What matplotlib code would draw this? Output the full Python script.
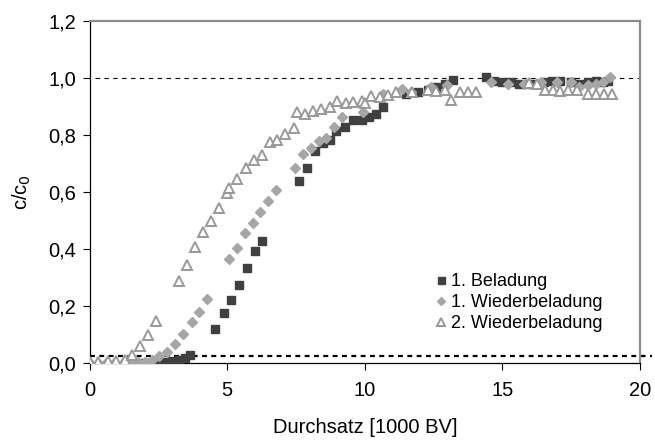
import numpy as np
import matplotlib
matplotlib.use("Agg")
import matplotlib.pyplot as plt
from matplotlib.ticker import FuncFormatter

plt.rcParams['font.family'] = ['Liberation Sans', 'DejaVu Sans']

# 1. Beladung
x_bel = [2.0, 2.25, 2.5, 2.75, 3.0, 3.25, 3.45, 3.64,
         4.57, 4.87, 5.15, 5.43, 5.72, 5.99, 6.28,
         7.61, 7.89, 8.18, 8.48, 8.75, 8.97, 9.27, 9.58, 9.88, 10.16, 10.42, 10.67,
         11.5, 11.93, 12.3, 12.6, 12.9, 13.19,
         14.42, 14.7, 15.0, 15.3, 15.6, 15.9, 16.2, 16.5, 16.8, 17.1,
         17.5, 17.8, 18.1, 18.4, 18.65, 18.85]
y_bel = [0.0, 0.0, 0.003, 0.005, 0.008, 0.012, 0.018, 0.028,
         0.12, 0.174, 0.22, 0.274, 0.332, 0.393, 0.428,
         0.64, 0.685, 0.744, 0.773, 0.784, 0.815, 0.83, 0.853, 0.853, 0.862, 0.874, 0.90,
         0.946, 0.95, 0.96, 0.97, 0.98, 0.995,
         1.005, 0.99, 0.985, 0.985, 0.98, 0.98, 0.98, 0.985, 0.99, 0.99,
         0.985, 0.98, 0.985, 0.99, 0.985, 0.99]

# 1. Wiederbeladung
x_wb1 = [0.0, 0.3, 0.6, 0.9, 1.2, 1.5, 1.75, 2.0, 2.25,
         2.52, 2.81, 3.11, 3.4, 3.7, 3.97, 4.27,
         5.07, 5.36, 5.65, 5.93, 6.2, 6.49, 6.77,
         7.45, 7.75, 8.04, 8.33, 8.6, 8.88, 9.17, 9.94, 10.67, 11.35, 11.67,
         12.4, 13.0, 14.6, 15.2, 15.8, 16.4, 17.0,
         17.5, 17.8, 18.1, 18.4, 18.65, 18.9]
y_wb1 = [0.0, 0.0, 0.0, 0.0, 0.0, 0.002, 0.003, 0.005, 0.01,
         0.025, 0.04, 0.067, 0.10, 0.143, 0.18, 0.224,
         0.364, 0.405, 0.455, 0.49, 0.53, 0.57, 0.607,
         0.685, 0.733, 0.755, 0.78, 0.79, 0.83, 0.862, 0.88, 0.946, 0.963, 0.95,
         0.97, 0.975, 0.985, 0.98, 0.98, 0.985, 0.985,
         0.988, 0.97, 0.975, 0.98, 0.988, 1.005]

# 2. Wiederbeladung
x_wb2 = [0.0, 0.3, 0.66, 0.97, 1.27, 1.54, 1.84, 2.13, 2.42,
         3.24, 3.53, 3.82, 4.1, 4.4, 4.69, 5.0, 5.07, 5.36, 5.67, 5.96, 6.25,
         6.55, 6.82, 7.11, 7.41, 7.55, 7.84, 8.13, 8.42, 8.72, 9.0, 9.3, 9.58,
         9.88, 10.0, 10.24, 10.55, 10.85, 11.13, 11.7, 12.3, 12.6, 12.9,
         13.15, 13.45, 13.75, 14.04,
         15.96, 16.26, 16.55, 16.83, 17.11, 17.39, 17.7, 18.12, 18.42, 18.7, 18.97]
y_wb2 = [0.005, 0.005, 0.006, 0.008, 0.01, 0.028, 0.06, 0.098, 0.148,
         0.289, 0.344, 0.408, 0.458, 0.50, 0.543, 0.598, 0.613, 0.646, 0.683, 0.712, 0.73,
         0.777, 0.783, 0.804, 0.826, 0.882, 0.874, 0.884, 0.893, 0.897, 0.92, 0.911, 0.917,
         0.92, 0.914, 0.937, 0.932, 0.941, 0.952, 0.95, 0.96, 0.955, 0.958,
         0.923, 0.952, 0.953, 0.953,
         0.983, 0.98, 0.96, 0.96, 0.955, 0.96, 0.96, 0.946, 0.946, 0.946, 0.943]

fig = plt.figure(figsize=(6.55, 4.41), dpi=100)
ax = fig.add_axes([0.137, 0.177, 0.840, 0.775])

ax.plot(x_bel, y_bel, ls='none', marker='s', ms=6.3, color='#404040',
        mec='#404040', label='1. Beladung', zorder=3)
ax.plot(x_wb1, y_wb1, ls='none', marker='D', ms=5.3, color='#a6a6a6',
        mec='#a6a6a6', label='1. Wiederbeladung', zorder=4)
ax.plot(x_wb2, y_wb2, ls='none', marker='^', ms=6.5, mfc='white',
        mec='#999999', mew=1.4, label='2. Wiederbeladung', zorder=5)

# Hilfslinien bei c/c0 = 1 und Durchbruch
ax.plot([0.2, 20], [1.0, 1.0], color='black', lw=0.8, dashes=(4, 4), zorder=2)
ax.plot([0, 20.45], [0.025, 0.025], color='black', lw=1.6, dashes=(2.2, 2),
        clip_on=False, zorder=2)

ax.set_xlim(0, 20)
ax.set_ylim(0, 1.2)
ax.set_xticks([0, 5, 10, 15, 20])
ax.set_yticks(np.arange(0, 1.21, 0.2))
ax.yaxis.set_major_formatter(FuncFormatter(lambda v, p: f"{v:.1f}".replace('.', ',')))
ax.tick_params(direction='out', length=5, width=0.8, labelsize=14.5, pad=5)
ax.tick_params(axis='x', pad=8)

for s in ['top', 'right']:
    ax.spines[s].set_color('#8c8c8c')
    ax.spines[s].set_linewidth(1.6)
for s in ['left', 'bottom']:
    ax.spines[s].set_color('black')
    ax.spines[s].set_linewidth(0.9)

ax.set_xlabel('Durchsatz [1000 BV]', fontsize=14.5, labelpad=13)
ax.set_ylabel('c/c$_0$', fontsize=14.5, labelpad=11)

ax.legend(loc='upper left', bbox_to_anchor=(0.6, 0.31), frameon=False,
          fontsize=13, handlelength=0.5, handletextpad=0.35, labelspacing=0.22,
          markerscale=0.8)

fig.savefig('out.png', dpi=100)
